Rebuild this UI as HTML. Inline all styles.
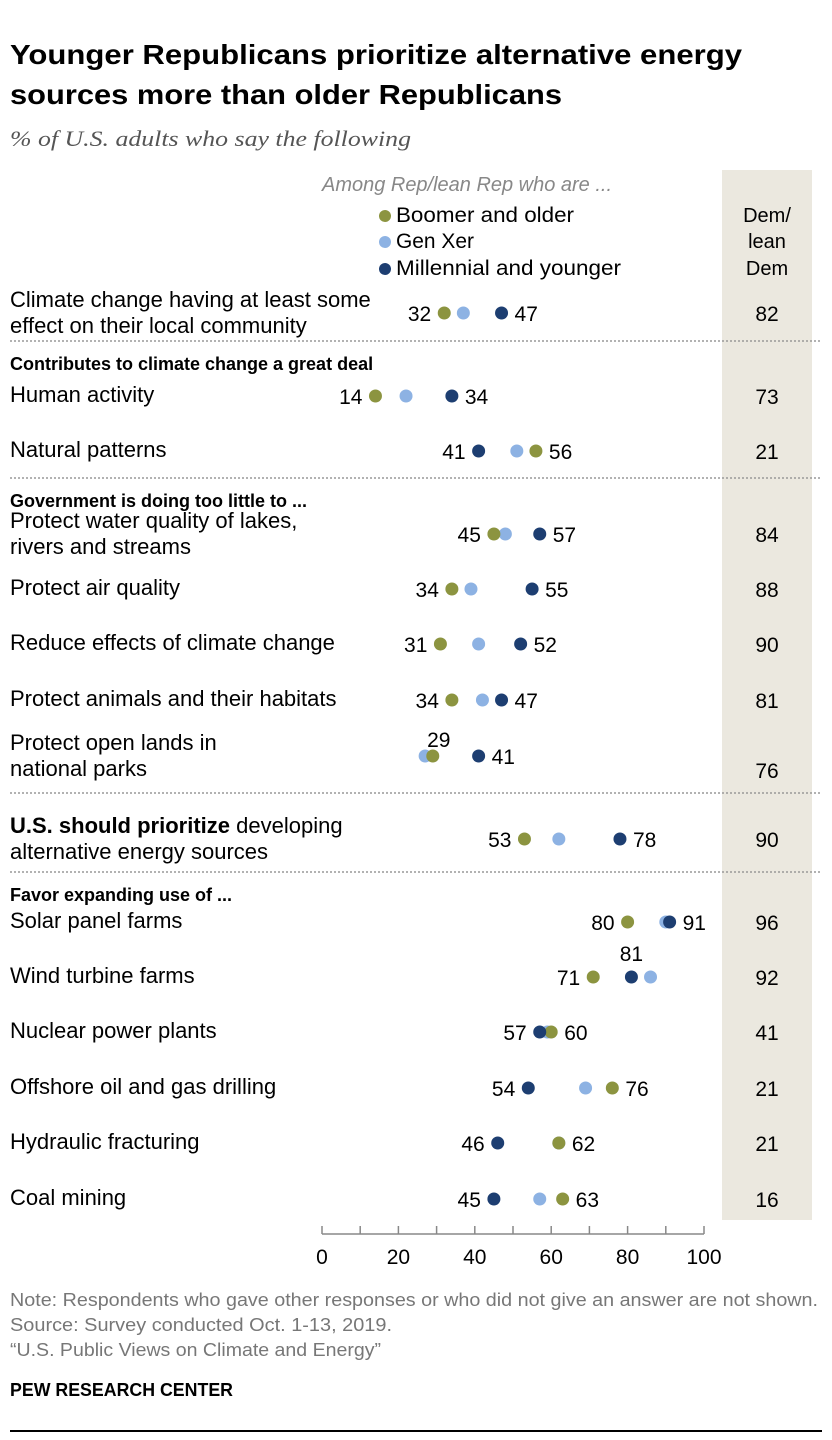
<!DOCTYPE html>
<html><head><meta charset="utf-8"><style>
body{margin:0;background:#fff;}
svg{display:block;font-family:"Liberation Sans Narrow","Liberation Sans",sans-serif;}
</style></head><body>
<svg id="c" width="832" height="1440" viewBox="0 0 832 1440">
<text x="10" y="64" font-family="Liberation Sans" font-weight="bold" font-size="28" textLength="732" lengthAdjust="spacingAndGlyphs" fill="#000">Younger Republicans prioritize alternative energy</text>
<text x="10" y="104" font-family="Liberation Sans" font-weight="bold" font-size="28" textLength="552" lengthAdjust="spacingAndGlyphs" fill="#000">sources more than older Republicans</text>
<text x="10" y="146" font-family="Liberation Serif" font-style="italic" font-size="22" textLength="401" lengthAdjust="spacingAndGlyphs" fill="#555">% of U.S. adults who say the following</text>
<rect x="722" y="170" width="90" height="1050" fill="#ebe8df"/>
<text x="767" y="222" text-anchor="middle" font-size="20">Dem/</text>
<text x="767" y="248" text-anchor="middle" font-size="20">lean</text>
<text x="767" y="275" text-anchor="middle" font-size="20">Dem</text>
<text x="612" y="191" text-anchor="end" font-style="italic" font-size="20" textLength="290" lengthAdjust="spacingAndGlyphs" fill="#888">Among Rep/lean Rep who are ...</text>
<g>
<circle cx="385" cy="216" r="6" fill="#8c9440"/>
<text x="396" y="222" font-size="21" textLength="178" lengthAdjust="spacingAndGlyphs">Boomer and older</text>
<circle cx="385" cy="242" r="6" fill="#8db2e3"/>
<text x="396" y="248" font-size="21" textLength="78" lengthAdjust="spacingAndGlyphs">Gen Xer</text>
<circle cx="385" cy="269" r="6" fill="#1d3e71"/>
<text x="396" y="275" font-size="21" textLength="225" lengthAdjust="spacingAndGlyphs">Millennial and younger</text>
</g>
<g id="rows"></g>
<g id="axis"></g>
<text x="10" y="1306" font-size="18" textLength="808" lengthAdjust="spacingAndGlyphs" fill="#777">Note: Respondents who gave other responses or who did not give an answer are not shown.</text>
<text x="10" y="1331" font-size="18" textLength="382" lengthAdjust="spacingAndGlyphs" fill="#777">Source: Survey conducted Oct. 1-13, 2019.</text>
<text x="10" y="1356" font-size="18" textLength="371" lengthAdjust="spacingAndGlyphs" fill="#777">“U.S. Public Views on Climate and Energy”</text>
<text x="10" y="1396" font-size="18" font-weight="bold" textLength="223" lengthAdjust="spacingAndGlyphs" fill="#000">PEW RESEARCH CENTER</text>
<rect x="10" y="1430" width="812" height="2" fill="#000"/>
</svg>
<script>
const categories=["Climate change having at least some|effect on their local community","Human activity","Natural patterns","Protect water quality of lakes,|rivers and streams","Protect air quality","Reduce effects of climate change","Protect animals and their habitats","Protect open lands in|national parks","<b>U.S. should prioritize</b> developing|alternative energy sources","Solar panel farms","Wind turbine farms","Nuclear power plants","Offshore oil and gas drilling","Hydraulic fracturing","Coal mining"];
const boomer=[32,14,56,45,34,31,34,29,53,80,71,60,76,62,63];
const genx=[37,22,51,48,39,41,42,27,62,90,86,59,69,62,57];
const millennial=[47,34,41,57,55,52,47,41,78,91,81,57,54,46,45];
const dem=[82,73,21,84,88,90,81,76,90,96,92,41,21,21,16];
const sections=[{before:1,text:"Contributes to climate change a great deal"},{before:3,text:"Government is doing too little to ..."},{before:8,text:null},{before:9,text:"Favor expanding use of ..."}];
const ticks=[0,10,20,30,40,50,60,70,80,90,100];
const tickLabels=["0","20","40","60","80","100"];
const rowY=[313,396,451,534,589,644,700,756,839,922,977,1032,1088,1143,1199];
const NS="http://www.w3.org/2000/svg";
const x=v=>322+v*3.82;
const rows=document.getElementById('rows');
function mk(t,a,p){const e=document.createElementNS(NS,t);for(const k in a)e.setAttribute(k,a[k]);(p||rows).appendChild(e);return e;}
const sepY={1:341,3:478,8:793,9:872};
sections.forEach(s=>{
 const l=mk('line',{x1:10,x2:820,y1:sepY[s.before],y2:sepY[s.before],stroke:'#999','stroke-width':1.5,'stroke-dasharray':'2,2'});
 
 
 if(s.text){const t=mk('text',{x:10,y:sepY[s.before]+29,'font-size':18,'font-weight':'bold','font-family':'Liberation Sans'});t.textContent=s.text;
 
 }
});
const cols=["#8c9440","#8db2e3","#1d3e71"];
categories.forEach((c,i)=>{
 const y=rowY[i];const lines=c.split('|');
 lines.forEach((ln,j)=>{
  const ty=lines.length==1?y+6:y-13+j*26+7;
  const t=mk('text',{x:10,y:ty,'font-size':22});
  
  
  if(ln.startsWith('<b>')){const m=ln.match(/<b>(.*)<\/b>(.*)/);const a=mk('tspan',{'font-weight':'bold'},t);a.textContent=m[1];const b=mk('tspan',{},t);b.textContent=m[2];}
  else t.textContent=ln;
 });
 const vals=[boomer[i],genx[i],millennial[i]];
 [1,0,2].forEach(k=>{const d=mk('circle',{cx:x(vals[k]),cy:y,r:6.5,fill:cols[k]});
  
  });
 const b=boomer[i],m=millennial[i];
 const lo=Math.min(b,m),hi=Math.max(b,m);
 const loX=Math.min(x(lo),x(genx[i])),hiX=Math.max(x(hi),x(genx[i]));
 let lowPos={x:loX-13,y:y+8,a:'end'},hiPos={x:hiX+13,y:y+8,a:'start'};
 if(i==7){lowPos={x:x(b)+6,y:y-9,a:'middle'};}
 if(i==10){hiPos={x:x(m),y:y-16,a:'middle'};}
 [[lo,lowPos],[hi,hiPos]].forEach(([v,p])=>{const t=mk('text',{x:p.x,y:p.y,'text-anchor':p.a,'font-size':21});t.textContent=v;
  
  });
 const dy=i==7?y+14:y;
 const dt=mk('text',{x:767,y:dy+8,'text-anchor':'middle','font-size':21});dt.textContent=dem[i];
 
 
});
const ax=document.getElementById('axis');
const al=mk('line',{x1:x(0),x2:x(100),y1:1234,y2:1234,stroke:'#888','stroke-width':1.5},ax);


ticks.forEach(v=>{const l=mk('line',{x1:x(v),x2:x(v),y1:1226,y2:1234,stroke:'#888','stroke-width':1.5},ax);
 
 });
tickLabels.forEach(s=>{const t=mk('text',{x:x(+s),y:1264,'text-anchor':'middle','font-size':21},ax);t.textContent=s;
 
 });
</script>
</body></html>
